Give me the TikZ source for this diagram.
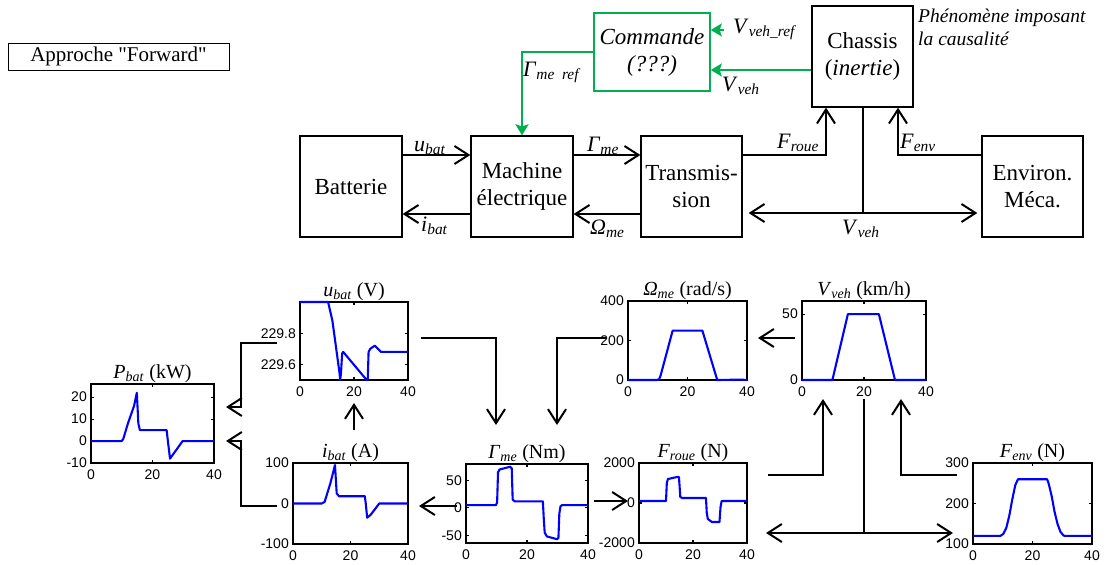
\documentclass[tikz,border=0pt]{standalone}
\usepackage{fontspec}
\setmainfont{Liberation Serif}
\newfontfamily\axfont{Liberation Sans}
\newfontfamily\rawserif[Ligatures=TeXOff]{Liberation Serif}
\usetikzlibrary{arrows.meta,calc}
\definecolor{grn}{RGB}{0,176,80}
\newcommand\vr[2]{\textit{#1}\textsubscript{\textit{#2}}}
% #1 L, #2 T, #3 R, #4 B, #5 ymin, #6 ymax, #7 yticks val/label, #8 data
\newcommand\mplot[8]{%
  \pgfmathsetmacro\psx{(#3-#1)/40}%
  \pgfmathsetmacro\psy{(#4-#2)/((#6)-(#5))}%
  \begin{scope}[shift={(#1,#4)},x=\psx pt,y=\psy pt,shift={(0,{-(#5)})}]
    \draw[frame] (0,#5) rectangle (40,#6);
    \draw[frame] (20,#5) -- ++(0,3pt) (20,#6) -- ++(0,-3pt);
    \foreach \xv in {0,20,40} {\node[xtick] at (\xv,#5) {\xv};}
    \foreach \yv/\yl in {#7} {\draw[frame] (0,\yv) -- ++(3pt,0) (40,\yv) -- ++(-3pt,0);
      \node[ytick] at (0,\yv) {\yl};}
    \draw[dataline] plot coordinates {#8};
  \end{scope}}
\begin{document}
\begin{tikzpicture}[x=1pt,y=-1pt,
  blk/.style={draw, line width=1.3pt, align=center, inner sep=0pt, minimum height=101pt,
    font=\fontsize{23}{27}\selectfont},
  conn/.style={line width=2pt, -{Straight Barb[length=14pt,width=18pt]}},
  dconn/.style={line width=2pt, {Straight Barb[length=14pt,width=18pt]}-{Straight Barb[length=14pt,width=18pt]}},
  plain/.style={line width=2pt},
  gconn/.style={draw=grn, line width=2pt, -{Stealth[length=11pt,width=13pt,inset=2pt]}},
  lbl/.style={font=\fontsize{22}{24}\selectfont, anchor=base west, inner sep=0pt},
  ttl/.style={font=\fontsize{20}{22}\selectfont, anchor=base, inner sep=0pt},
  frame/.style={line width=1.2pt},
  dataline/.style={draw=blue, line width=2.1pt, line join=round},
  xtick/.style={below=6pt, inner sep=1pt, font=\axfont\fontsize{14}{14}\selectfont},
  ytick/.style={left=3pt, inner sep=1pt, font=\axfont\fontsize{14}{14}\selectfont}]
\useasboundingbox (0,0) rectangle (1106,565);

% ---------- top block diagram ----------
\node[draw, line width=1pt, minimum width=221pt, minimum height=27pt, inner sep=0pt,
  font=\rawserif\fontsize{21}{23}\selectfont] (appr) at (118.5,56.5) {Approche "Forward"};

\node[blk, minimum width=102pt] (bat) at (351,186.5) {Batterie};
\node[blk, minimum width=102pt] (me) at (522,186.5) {Machine\\électrique};
\node[blk, minimum width=101pt] (tr) at (691.5,186.5) {Transmis-\\sion};
\node[blk, minimum width=101pt] (env) at (1032.5,186.5) {Environ.\\Méca.};
\node[blk, minimum width=101pt] (ch) at (862.5,56.5) {Chassis\\(\textit{inertie})};
\node[blk, draw=grn, line width=1.5pt, minimum width=116pt, minimum height=78pt,
  font=\fontsize{23}{27}\selectfont\itshape] (cmd) at (652,52) {Commande\\(???)};
\node[font=\fontsize{19.5}{23}\selectfont\itshape, align=left, anchor=north west, inner sep=0pt]
  (phen) at (918,9) {Phénomène imposant\\la causalité};

\draw[conn] ([yshift=31.5pt]bat.east) -- ([yshift=31.5pt]me.west);
\draw[conn] ([yshift=-27.5pt]me.west) -- ([yshift=-27.5pt]bat.east);
\draw[conn] ([yshift=31.5pt]me.east) -- ([yshift=31.5pt]tr.west);
\draw[conn] ([yshift=-27.5pt]tr.west) -- ([yshift=-27.5pt]me.east);
\draw[conn] ([yshift=31.5pt]tr.east) -| ([xshift=-36.5pt]ch.south);
\draw[conn] ([yshift=31.5pt]env.west) -| ([xshift=35.5pt]ch.south);
\coordinate (vj) at (862.5,213);
\draw[plain] (ch.south) -- (vj);
\draw[dconn, shorten <=6pt, shorten >=4pt] ([yshift=-26.5pt]tr.east) -- ([yshift=-26.5pt]env.west);

\draw[gconn] (cmd.west) -| (me.north);
\coordinate (gv) at ([yshift=-13.5pt]ch.west);
\draw[gconn] (gv) -- (gv -| cmd.east);
\coordinate (vref) at (724,30);
\draw[gconn] (vref) -- (vref -| cmd.east);

\node[lbl] (l-ubat) at (414,151) {\vr{u}{bat}};
\node[lbl] (l-ibat) at (421,231) {\vr{i}{bat}};
\node[lbl] (l-gme) at (587,151) {\vr{Γ}{me}};
\node[lbl] (l-ome) at (590,234) {\vr{Ω}{me}};
\node[lbl] (l-froue) at (777,148) {\vr{F}{roue}};
\node[lbl] (l-fenv) at (900,148) {\vr{F}{env}};
\node[lbl] (l-vveh) at (842,234) {\vr{V}{veh}};
\node[lbl] (l-gref) at (523,76) {\vr{Γ}{me\ \ ref}};
\node[lbl] (l-vref) at (733,33) {\vr{V}{veh\_ref}};
\node[lbl] (l-vveh2) at (722,91) {\vr{V}{veh}};

% ---------- plots ----------
\mplot{91}{384}{214}{463}{-10}{26}{20/20,10/10,0/0,-10/-10}%
 {(0,0)(10,0)(10.5,1)(12,8)(14,16)(14.9,22)(15.4,8)(15.9,5)(24.6,5)(25,0)(25.7,-8)(29.8,0)(40,0)}
\node[ttl] (t-pbat) at (152.5,378) {\vr{P}{bat} (kW)};

\mplot{300}{302}{408}{380}{0}{0.5}{0.3/229.8,0.1/229.6}%
 {(0,0.5)(10.4,0.5)(12,0.38)(14.6,0.05)(14.9,0)(15.2,0.05)(15.6,0.17)(16,0.18)(24.7,0)(25.1,0.01)(25.4,0.18)(26,0.2)(27.7,0.22)(30,0.18)(40,0.18)}
\node[ttl] (t-ubat) at (354,296) {\vr{u}{bat} (V)};

\mplot{293}{463}{408}{544}{-100}{100}{100/100,0/0,-100/-100}%
 {(0,0)(10,0)(11,4)(13,50)(14.6,95)(15.2,25)(16,18)(25,18)(25.3,0)(25.8,-35)(27,-28)(30,0)(40,0)}
\node[ttl] (t-ibat) at (350.5,457) {\vr{i}{bat} (A)};

\mplot{466}{464}{588}{543}{-64}{80}{50/50,0/0,-50/-50}%
 {(0,5)(9.8,5)(10.2,10)(10.5,65)(11,70)(14.5,75)(15,72)(15.3,15)(16,12)(25.2,12)(25.5,-20)(25.8,-45)(26.5,-52)(29.8,-57)(30.3,-55)(30.6,-10)(31,3)(31.5,5)(40,5)}
\node[ttl] (t-gme) at (527,458) {\vr{Γ}{me} (Nm)};

\mplot{639}{463}{747}{543}{-2000}{2000}{2000/2000,0/0,-2000/-2000}%
 {(0,100)(10,100)(10.3,1000)(10.7,1200)(14,1300)(14.8,1300)(15.3,300)(16,250)(24.8,250)(25.1,-500)(25.5,-800)(27,-950)(29.8,-950)(30.2,-200)(30.6,100)(40,100)}
\node[ttl] (t-froue) at (693,457) {\vr{F}{roue} (N)};

\mplot{628}{301}{747}{380}{0}{400}{400/400,200/200,0/0}%
 {(0,0)(9.8,0)(10.5,5)(11,25)(15,250)(25,250)(30,0)(38,2)(40,0)}
\node[ttl] (t-ome) at (687.5,295) {\vr{Ω}{me} (rad/s)};

\mplot{802}{301}{926}{380}{0}{60}{50/50,0/0}%
 {(0,0)(9.8,0)(14.8,50)(24.8,50)(30,0)(40,0)}
\node[ttl] (t-vveh) at (864,295) {\vr{V}{veh} (km/h)};

\mplot{973}{463}{1092}{544}{100}{300}{300/300,200/200,100/100}%
 {(0,120)(9.2,120)(10.2,125)(11.2,140)(12.2,170)(13.2,210)(14.2,245)(15.1,260)(24.9,260)(25.4,250)(26.4,220)(27.4,180)(28.4,150)(29.4,130)(30.4,121)(31,120)(40,120)}
\node[ttl] (t-fenv) at (1032.5,457) {\vr{F}{env} (N)};

% ---------- plot connectors ----------
\coordinate (a1s) at (277,343); \coordinate (a1e) at (226,407);
\draw[conn] (a1s) -- ++(-36,0) |- (a1e);
\coordinate (a2s) at (277,506); \coordinate (a2e) at (226,441);
\draw[conn] (a2s) -- ++(-36,0) |- (a2e);
\coordinate (a3s) at (354,430); \coordinate (a3e) at (354,403);
\draw[conn] (a3s) -- (a3e);
\coordinate (a4s) at (421,338); \coordinate (a4e) at (496,425);
\draw[conn] (a4s) -| (a4e);
\coordinate (a5s) at (607,338); \coordinate (a5e) at (557,425);
\draw[conn] (a5s) -| (a5e);
\coordinate (a6s) at (795,338); \coordinate (a6e) at (758,338);
\draw[conn] (a6s) -- (a6e);
\coordinate (a7s) at (457,506); \coordinate (a7e) at (419,506);
\draw[conn] (a7s) -- (a7e);
\coordinate (a8s) at (594,501); \coordinate (a8e) at (628,501);
\draw[conn] (a8s) -- (a8e);
\coordinate (a9s) at (768,475); \coordinate (a9e) at (823,399);
\draw[conn] (a9s) -| (a9e);
\coordinate (a10s) at (957,475); \coordinate (a10e) at (901,399);
\draw[conn] (a10s) -| (a10e);
\coordinate (a11s) at (864,399); \coordinate (a11j) at (864,533);
\draw[plain] (a11s) -- (a11j);
\coordinate (a11l) at (766,533); \coordinate (a11r) at (953,533);
\draw[dconn] (a11l) -- (a11r);
\end{tikzpicture}
\end{document}
